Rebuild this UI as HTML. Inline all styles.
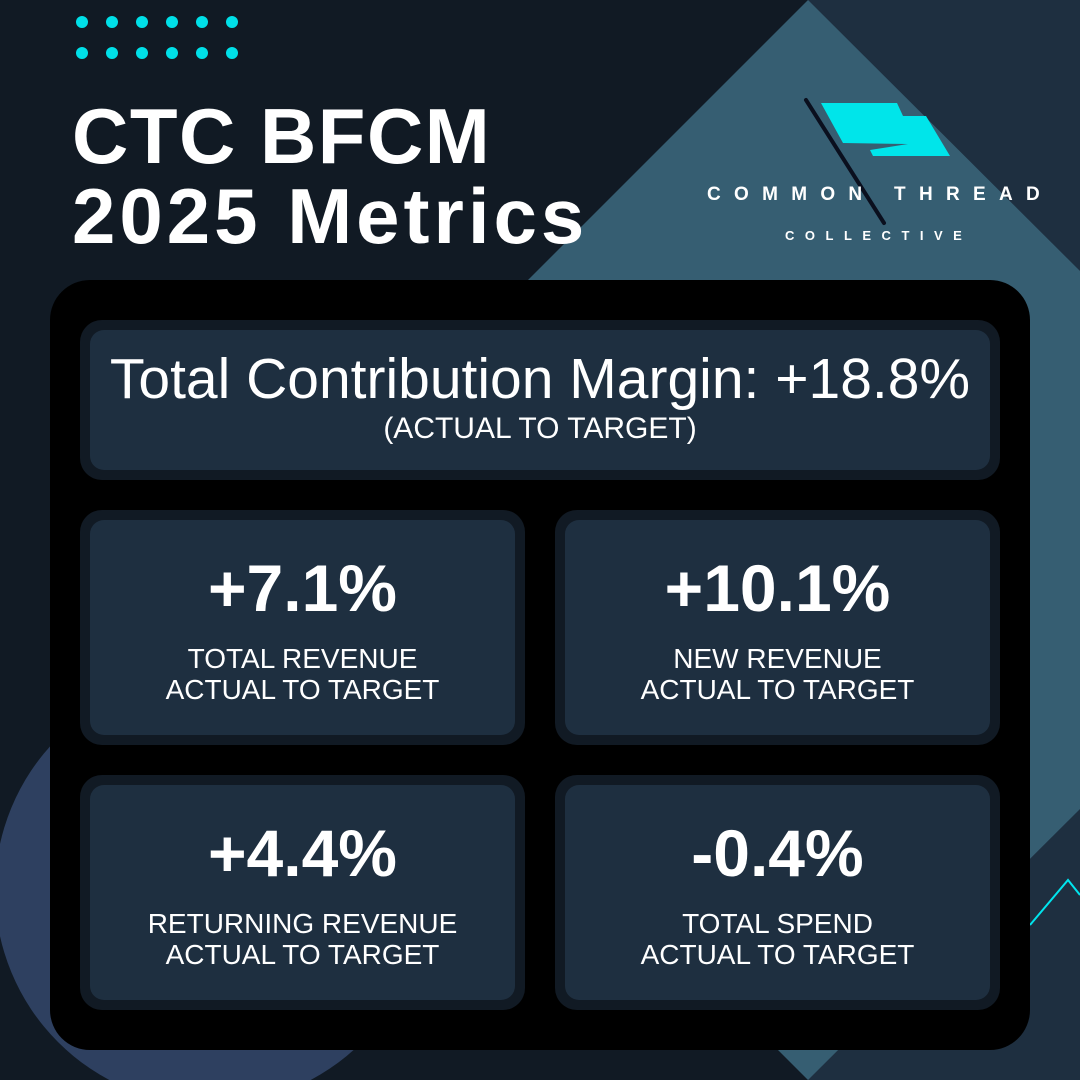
<!DOCTYPE html>
<html><head><meta charset="utf-8"><style>
html,body{margin:0;padding:0}
body{width:1080px;height:1080px;position:relative;overflow:hidden;background:#111a24;font-family:"Liberation Sans",sans-serif;color:#fff}
.abs{position:absolute}
.card{position:absolute;background:#111a24;border-radius:22px}
.card .in{position:absolute;left:10px;top:10px;right:10px;bottom:10px;background:#1e2f40;border-radius:14px;display:flex;flex-direction:column;align-items:center;justify-content:center;text-align:center}
.big{font-size:66px;font-weight:bold;line-height:1;margin-top:4px}
.lab{font-size:28px;line-height:31px;margin-top:22px}
</style></head><body>
<svg class="abs" width="1080" height="1080" style="left:0;top:0">
<rect x="808" y="0" width="272" height="1080" fill="#1e2f40"/>
<polygon points="808,0 1350,540 808,1080 268,540" fill="#365e72"/>
<circle cx="210" cy="890" r="215" fill="#2e4060"/>
<polyline points="1030,925 1068,880 1080,895" fill="none" stroke="#00e5ee" stroke-width="2"/>
<g fill="#00e0e8">
<circle cx="82" cy="22" r="6"/><circle cx="112" cy="22" r="6"/><circle cx="142" cy="22" r="6"/><circle cx="172" cy="22" r="6"/><circle cx="202" cy="22" r="6"/><circle cx="232" cy="22" r="6"/>
<circle cx="82" cy="53" r="6"/><circle cx="112" cy="53" r="6"/><circle cx="142" cy="53" r="6"/><circle cx="172" cy="53" r="6"/><circle cx="202" cy="53" r="6"/><circle cx="232" cy="53" r="6"/>
</g>
<g>
<polygon points="821,103 897,103 903,116 926,116 950,156 873,156 870,150 908,144 843,143" fill="#00e5ea"/>
<line x1="806" y1="100" x2="884" y2="223" stroke="#0a0f1e" stroke-width="4" stroke-linecap="round"/>
</g>
</svg>
<div class="abs" style="left:72px;top:96px;font-size:78px;line-height:80px;font-weight:bold;white-space:nowrap"><span style="letter-spacing:1.5px">CTC BFCM</span><br><span style="letter-spacing:4px">2025 Metrics</span></div>
<div class="abs" style="left:707px;top:184px;font-size:19px;font-weight:bold;letter-spacing:13.3px;white-space:nowrap">COMMON THREAD</div>
<div class="abs" style="left:785px;top:228px;font-size:13px;font-weight:bold;letter-spacing:10.5px;white-space:nowrap">COLLECTIVE</div>
<div class="abs" style="left:50px;top:280px;width:980px;height:770px;background:#000;border-radius:40px"></div>
<div class="card" style="left:80px;top:320px;width:920px;height:160px"><div class="in">
<div style="font-size:57px;line-height:58px;margin-top:-4px;white-space:nowrap">Total Contribution Margin: +18.8%</div>
<div style="font-size:30px;margin-top:4px">(ACTUAL TO TARGET)</div></div></div>
<div class="card" style="left:80px;top:510px;width:445px;height:235px"><div class="in"><div class="big">+7.1%</div><div class="lab">TOTAL REVENUE<br>ACTUAL TO TARGET</div></div></div>
<div class="card" style="left:555px;top:510px;width:445px;height:235px"><div class="in"><div class="big">+10.1%</div><div class="lab">NEW REVENUE<br>ACTUAL TO TARGET</div></div></div>
<div class="card" style="left:80px;top:775px;width:445px;height:235px"><div class="in"><div class="big">+4.4%</div><div class="lab">RETURNING REVENUE<br>ACTUAL TO TARGET</div></div></div>
<div class="card" style="left:555px;top:775px;width:445px;height:235px"><div class="in"><div class="big">-0.4%</div><div class="lab">TOTAL SPEND<br>ACTUAL TO TARGET</div></div></div>
</body></html>
